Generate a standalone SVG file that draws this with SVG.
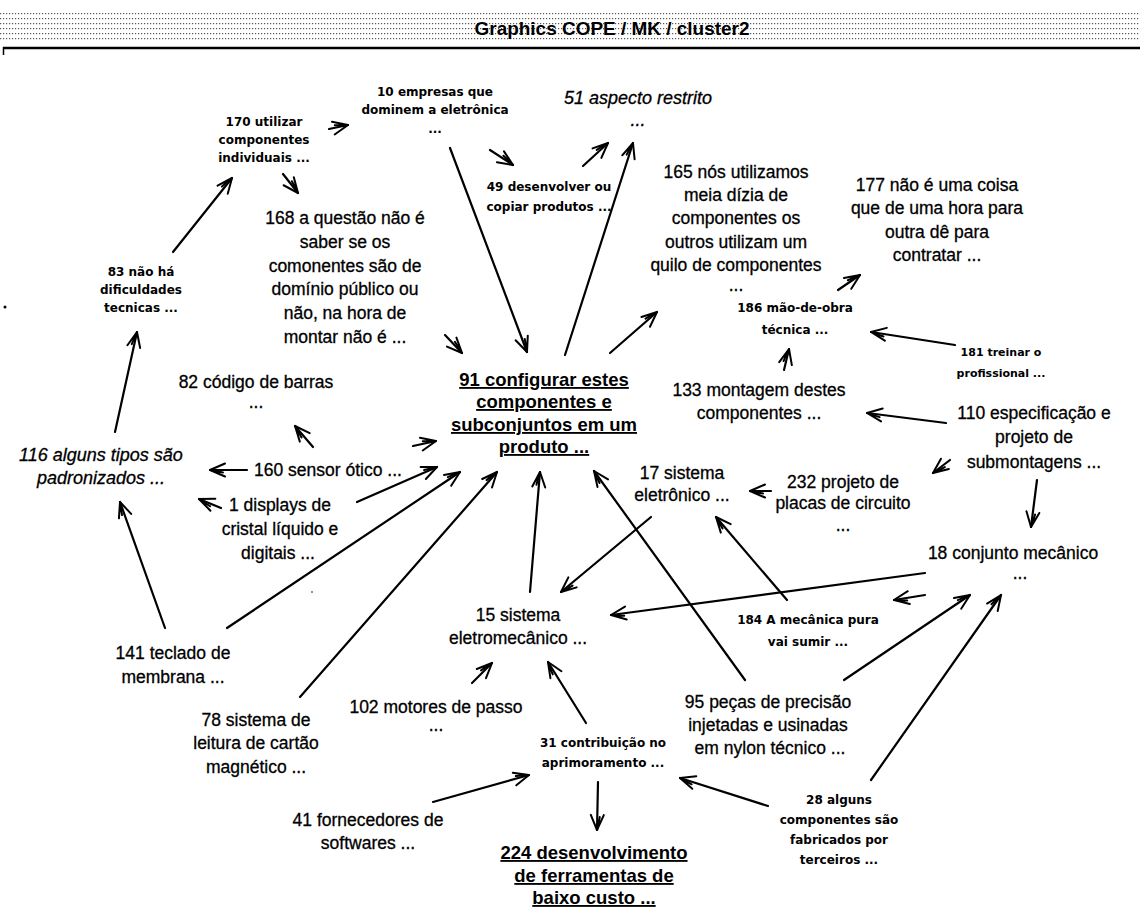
<svg xmlns="http://www.w3.org/2000/svg" width="1140" height="909" viewBox="0 0 1140 909">
<defs>
  <pattern id="dots" width="3" height="5" patternUnits="userSpaceOnUse" x="0" y="13">
    <rect width="1.2" height="1.2" fill="#555"/>
  </pattern>
  <marker id="ah" markerUnits="userSpaceOnUse" viewBox="-17 -9 19 18" markerWidth="19" markerHeight="18" refX="0" refY="0" orient="auto">
    <path d="M-15,-6.5 L0,0 L-15,6.5 M-13,-2.5 L0,0" fill="none" stroke="#000" stroke-width="2" stroke-linecap="round" stroke-linejoin="round"/>
  </marker>
</defs>
<style>
  .r text{font-family:"Liberation Sans",Arial,sans-serif;font-size:17.5px;fill:#000;stroke:#000;stroke-width:0.3;text-anchor:middle}
  .s text{font-family:"DejaVu Sans",Verdana,sans-serif;font-weight:bold;font-size:12px;fill:#000;text-anchor:middle}
  .i text{font-family:"Liberation Sans",Arial,sans-serif;font-style:italic;font-size:18px;fill:#000;stroke:#000;stroke-width:0.3;text-anchor:middle}
  .b text{font-family:"Liberation Sans",Arial,sans-serif;font-weight:bold;font-size:18.5px;fill:#000;text-anchor:middle;text-decoration:underline}
  .title{font-family:"Liberation Sans Narrow","Liberation Sans",Arial,sans-serif;font-weight:bold;font-size:19px;fill:#000;text-anchor:middle}
  #edges line{stroke:#000;stroke-width:2.2;stroke-linecap:round;marker-end:url(#ah)}
</style>

<rect width="1140" height="909" fill="#fff"/>

<!-- header band -->
<g id="header">
  <rect x="0" y="12" width="1140" height="31" fill="url(#dots)"/>
  <text class="title" x="612" y="35" textLength="275" lengthAdjust="spacingAndGlyphs">Graphics COPE / MK / cluster2</text>
  <line x1="3" y1="48" x2="1140" y2="48" stroke="#000" stroke-width="2.5"/>
  <line x1="3.5" y1="47" x2="3.5" y2="55" stroke="#000" stroke-width="1.5"/>
</g>

<!-- connectors -->
<g id="edges">
  <line x1="329" y1="129" x2="348" y2="125"/>
  <line x1="283" y1="174" x2="298" y2="193"/>
  <line x1="173" y1="252" x2="232" y2="178"/>
  <line x1="450" y1="148" x2="527" y2="352"/>
  <line x1="490" y1="150" x2="513" y2="165"/>
  <line x1="583" y1="166" x2="608" y2="143"/>
  <line x1="565" y1="355" x2="633" y2="143"/>
  <line x1="610" y1="353" x2="657" y2="312"/>
  <line x1="445" y1="335" x2="462" y2="353"/>
  <line x1="838" y1="290" x2="860" y2="275"/>
  <line x1="955" y1="345" x2="871" y2="332"/>
  <line x1="784" y1="370" x2="789" y2="349"/>
  <line x1="946" y1="423" x2="867" y2="413"/>
  <line x1="950" y1="460" x2="933" y2="473"/>
  <line x1="1037" y1="480" x2="1031" y2="527"/>
  <line x1="771" y1="491" x2="750" y2="491"/>
  <line x1="651" y1="517" x2="561" y2="592"/>
  <line x1="745" y1="680" x2="594" y2="471"/>
  <line x1="787" y1="600" x2="716" y2="517"/>
  <line x1="925" y1="573" x2="611" y2="615"/>
  <line x1="925" y1="595" x2="894" y2="600"/>
  <line x1="844" y1="680" x2="970" y2="595"/>
  <line x1="871" y1="780" x2="1001" y2="595"/>
  <line x1="530" y1="592" x2="540" y2="472"/>
  <line x1="227" y1="628" x2="460" y2="472"/>
  <line x1="300" y1="697" x2="497" y2="472"/>
  <line x1="357" y1="502" x2="437" y2="467"/>
  <line x1="413" y1="446" x2="436" y2="441"/>
  <line x1="313" y1="447" x2="295" y2="426"/>
  <line x1="247" y1="470" x2="210" y2="470"/>
  <line x1="221" y1="508" x2="199" y2="499"/>
  <line x1="165" y1="628" x2="120" y2="502"/>
  <line x1="115" y1="432" x2="137" y2="332"/>
  <line x1="472" y1="683" x2="492" y2="663"/>
  <line x1="586" y1="723" x2="548" y2="662"/>
  <line x1="433" y1="802" x2="529" y2="775"/>
  <line x1="598" y1="782" x2="597" y2="830"/>
  <line x1="768" y1="806" x2="680" y2="778"/>
</g>

<!-- nodes -->
<g id="n10" class="s"><text x="435" y="96">10 empresas que</text><text x="435" y="114">dominem a eletrônica</text><text x="435" y="133">...</text></g>
<g id="n170" class="s"><text x="264" y="126">170 utilizar</text><text x="264" y="144">componentes</text><text x="264" y="162">individuais ...</text></g>
<g id="n49" class="s"><text x="549" y="191">49 desenvolver ou</text><text x="549" y="211">copiar produtos ...</text></g>
<g id="n51" class="i"><text x="638" y="104">51 aspecto restrito</text><text x="638" y="126">...</text></g>
<g id="n168" class="r"><text x="345" y="224">168 a questão não é</text><text x="345" y="248">saber se os</text><text x="345" y="272">comonentes são de</text><text x="345" y="295">domínio público ou</text><text x="345" y="319">não, na hora de</text><text x="345" y="343">montar não é ...</text></g>
<g id="n165" class="r"><text x="736" y="178">165 nós utilizamos</text><text x="736" y="201">meia dízia de</text><text x="736" y="224">componentes os</text><text x="736" y="248">outros utilizam um</text><text x="736" y="271">quilo de componentes</text><text x="736" y="291">...</text></g>
<g id="n177" class="r"><text x="937" y="191">177 não é uma coisa</text><text x="937" y="214">que de uma hora para</text><text x="937" y="238">outra dê para</text><text x="937" y="261">contratar ...</text></g>
<g id="n186" class="s"><text x="795" y="312">186 mão-de-obra</text><text x="795" y="334">técnica ...</text></g>
<g id="n181" class="s"><text x="1001" y="356" style="font-size:11px">181 treinar o</text><text x="1001" y="377" style="font-size:11px">profissional ...</text></g>
<g id="n133" class="r"><text x="759" y="396">133 montagem destes</text><text x="759" y="419">componentes ...</text></g>
<g id="n110" class="r"><text x="1034" y="419">110 especificação e</text><text x="1034" y="443">projeto de</text><text x="1034" y="468">submontagens ...</text></g>
<g id="n91" class="b"><text x="544" y="386">91 configurar estes</text><text x="544" y="408">componentes e</text><text x="544" y="431">subconjuntos em um</text><text x="544" y="453">produto ...</text></g>
<g id="n82" class="r"><text x="256" y="388">82 código de barras</text><text x="256" y="408">...</text></g>
<g id="n83" class="s"><text x="141" y="276">83 não há</text><text x="141" y="294">dificuldades</text><text x="141" y="312">tecnicas ...</text></g>
<g id="n116" class="i"><text x="101" y="461">116 alguns tipos são</text><text x="101" y="484">padronizados ...</text></g>
<g id="n160" class="r"><text x="328" y="476">160 sensor ótico ...</text></g>
<g id="n1" class="r"><text x="280" y="511">1 displays de</text><text x="280" y="535">cristal líquido e</text><text x="278" y="559">digitais ...</text></g>
<g id="n141" class="r"><text x="173" y="659">141 teclado de</text><text x="173" y="683">membrana ...</text></g>
<g id="n78" class="r"><text x="256" y="726">78 sistema de</text><text x="256" y="749">leitura de cartão</text><text x="256" y="773">magnético ...</text></g>
<g id="n102" class="r"><text x="436" y="713">102 motores de passo</text><text x="436" y="731">...</text></g>
<g id="n15" class="r"><text x="518" y="621">15 sistema</text><text x="518" y="644">eletromecânico ...</text></g>
<g id="n17" class="r"><text x="682" y="479">17 sistema</text><text x="682" y="501">eletrônico ...</text></g>
<g id="n232" class="r"><text x="843" y="488">232 projeto de</text><text x="843" y="509">placas de circuito</text><text x="843" y="531">...</text></g>
<g id="n18" class="r"><text x="1013" y="559">18 conjunto mecânico</text><text x="1020" y="579">...</text></g>
<g id="n184" class="s"><text x="808" y="624">184 A mecânica pura</text><text x="808" y="646">vai sumir ...</text></g>
<g id="n95" class="r"><text x="768" y="708">95 peças de precisão</text><text x="768" y="731">injetadas e usinadas</text><text x="770" y="754">em nylon técnico ...</text></g>
<g id="n31" class="s"><text x="603" y="747">31 contribuição no</text><text x="603" y="767">aprimoramento ...</text></g>
<g id="n28" class="s"><text x="839" y="804">28 alguns</text><text x="839" y="824">componentes são</text><text x="839" y="844">fabricados por</text><text x="839" y="864">terceiros ...</text></g>
<g id="n41" class="r"><text x="368" y="826">41 fornecedores de</text><text x="368" y="849">softwares ...</text></g>
<g id="n224" class="b"><text x="594" y="859">224 desenvolvimento</text><text x="594" y="882">de ferramentas de</text><text x="594" y="904">baixo custo ...</text></g>

<!-- stray specks -->
<g id="specks" fill="#000">
  <circle cx="5" cy="307" r="1.5"/>
  <circle cx="312" cy="592" r="0.8"/>
</g>
</svg>
